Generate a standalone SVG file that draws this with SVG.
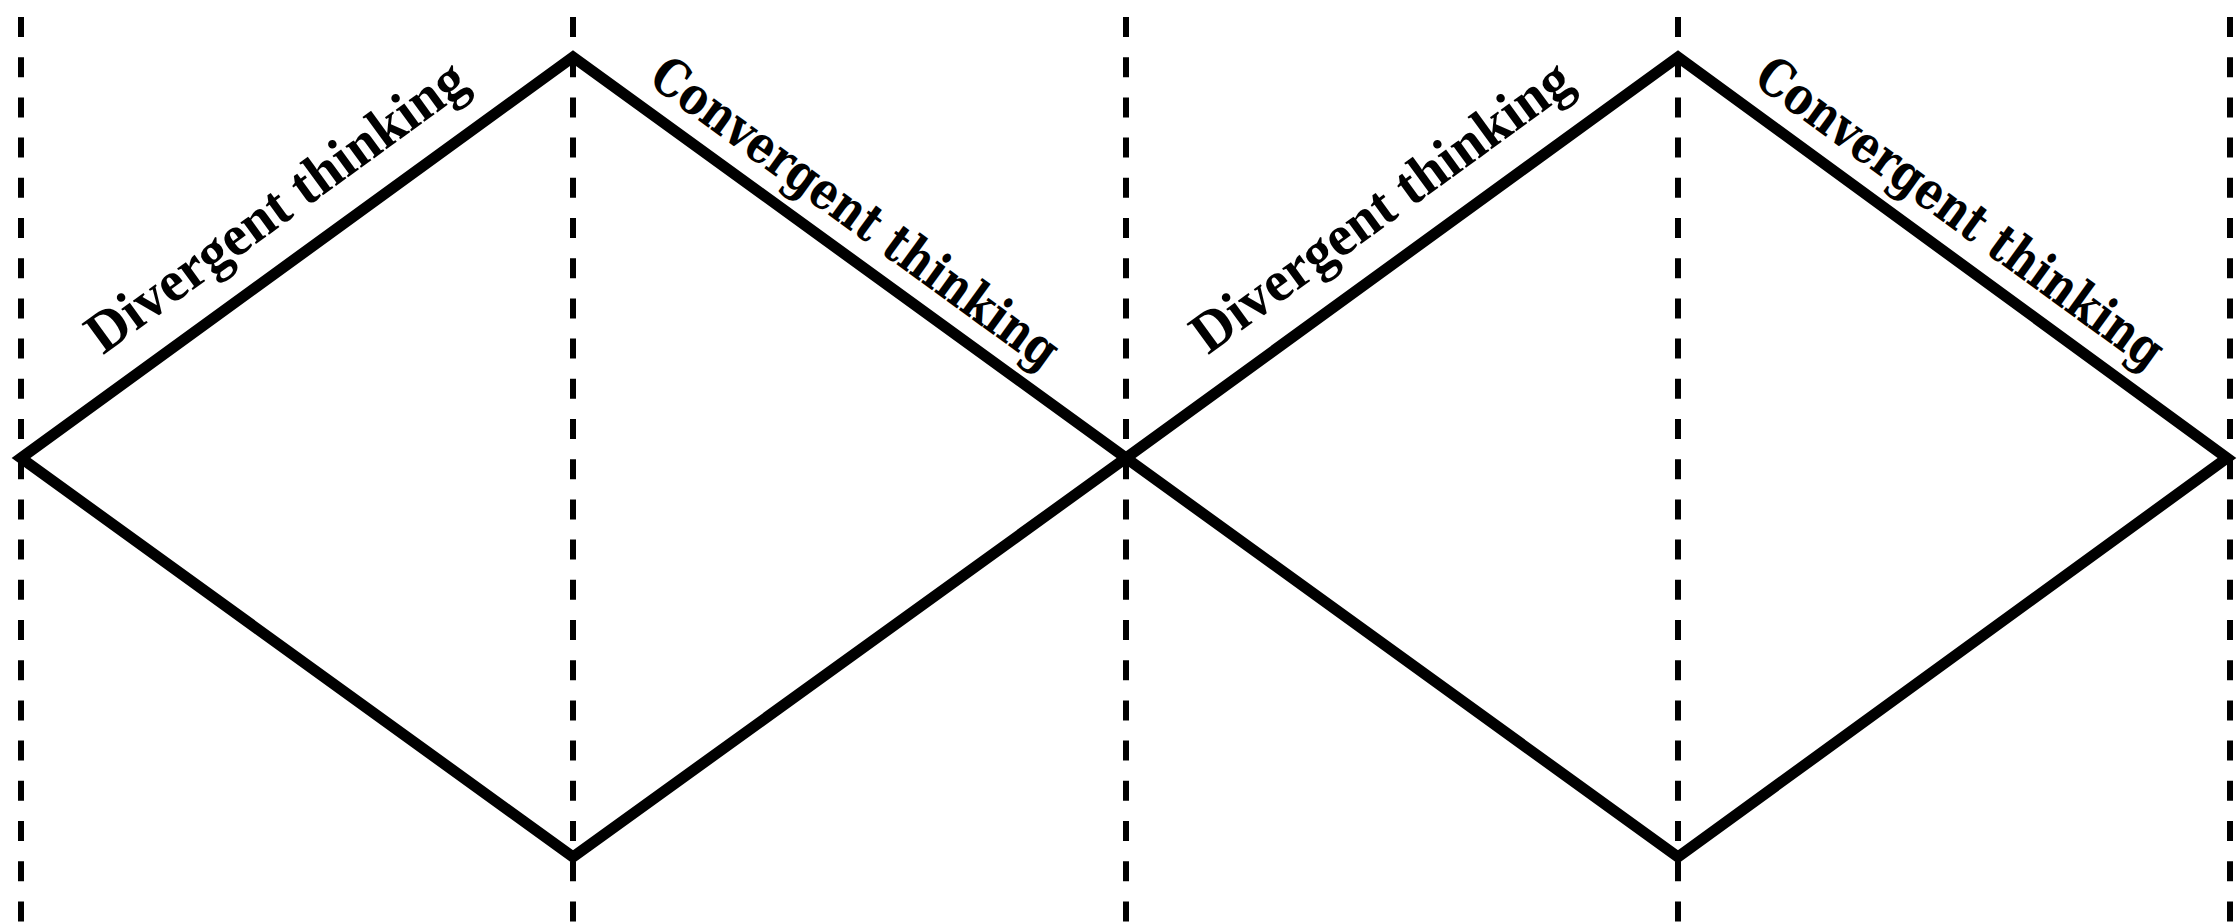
<svg xmlns="http://www.w3.org/2000/svg" width="2237" height="923" viewBox="0 0 2237 923">
<style>
.dash{stroke:#000;stroke-width:6;stroke-dasharray:20 20.2;fill:none}
.edge{stroke:#000;stroke-width:11;fill:none;stroke-linejoin:miter;stroke-miterlimit:10}
.div{font-family:"Liberation Serif",serif;font-weight:bold;font-size:58px;fill:#000;text-anchor:middle}
.con{font-family:"DejaVu Serif","Liberation Serif",serif;font-weight:bold;font-size:52px;fill:#000;text-anchor:middle}
</style>
<rect width="2237" height="923" fill="#fff"/>
<g id="guides">
<line class="dash" x1="21" y1="17" x2="21" y2="923"/>
<line class="dash" x1="573" y1="17" x2="573" y2="923"/>
<line class="dash" x1="1126" y1="17" x2="1126" y2="923"/>
<line class="dash" x1="1678" y1="17" x2="1678" y2="923"/>
<line class="dash" x1="2230" y1="17" x2="2230" y2="923"/>
</g>
<g id="connectors">
<polygon class="edge" points="21,458 573,57 1126,458 573,857"/>
<polygon class="edge" points="1126,458 1678,57 2227,458 1678,857"/>
</g>
<g id="label-divergent-1"><text class="div" transform="translate(287,221.5) rotate(-36)" textLength="455" lengthAdjust="spacingAndGlyphs">Divergent thinking</text></g>
<g id="label-convergent-1"><text class="con" transform="translate(845,227) rotate(36)" textLength="490" lengthAdjust="spacingAndGlyphs">Convergent thinking</text></g>
<g id="label-divergent-2"><text class="div" transform="translate(1392,221.5) rotate(-36)" textLength="455" lengthAdjust="spacingAndGlyphs">Divergent thinking</text></g>
<g id="label-convergent-2"><text class="con" transform="translate(1950,227) rotate(36)" textLength="490" lengthAdjust="spacingAndGlyphs">Convergent thinking</text></g>
</svg>
